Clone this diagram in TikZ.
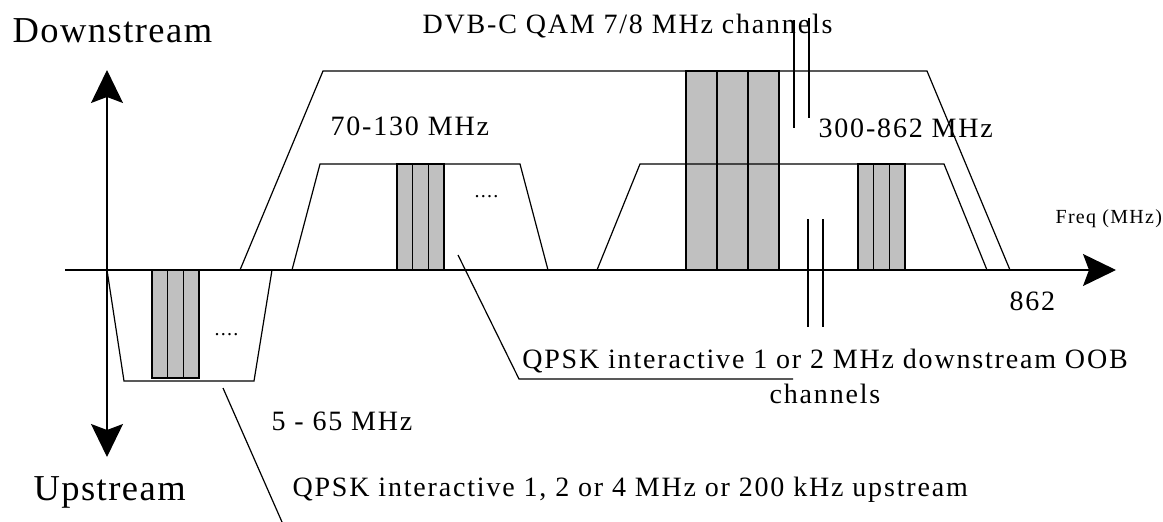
\documentclass[tikz,border=0pt]{standalone}
\usepackage{fontspec}
\setmainfont{Liberation Serif}[LetterSpace=6.5]
\usetikzlibrary{arrows.meta}
\definecolor{chgray}{RGB}{192,192,192}

\begin{document}
\begin{tikzpicture}[
  x=1pt, y=-1pt, line width=1.2pt,
  lbl/.style={inner sep=0pt, anchor=base west, font=\fontsize{28}{35}\selectfont},
  big/.style={inner sep=0pt, anchor=base west, font=\fontsize{36.5}{40}\selectfont},
  tiny/.style={inner sep=0pt, anchor=base west, font=\fontsize{20}{24}\selectfont},
  chan/.style={draw, fill=chgray},
  >={Stealth[length=33pt, width=32pt, inset=6pt]},
]
\useasboundingbox (0,0) rectangle (1163,522);

% channels
\foreach \x in {686,717,748} \draw[chan] (\x,71) rectangle ++(31,199);
\foreach \x in {397,412.7,428.3} \draw[chan] (\x,164) rectangle ++(15.7,106);
\foreach \x in {858,873.7,889.3} \draw[chan] (\x,164) rectangle ++(15.7,106);
\foreach \x in {152,167.7,183.3} \draw[chan] (\x,270) rectangle ++(15.7,108);

% bands
\draw (240,270) -- (323,71) -- (927,71) -- (1010,270);
\draw (292,270) -- (320,164) -- (520,164) -- (548,270);
\draw (597,270) -- (640,164) -- (944,164) -- (987,270);
\draw (107,270) -- (124,381) -- (254,381) -- (272,270);

\node[tiny] (dots1) at (474,197) {....};
\node[tiny] (dots2) at (214,335) {....};

% axes
\coordinate (vup) at (107,70);
\coordinate (vdown) at (107,457);
\coordinate (forigin) at (65,270);
\coordinate (fend) at (1116,270);
\draw[<->] (vdown) -- (vup);
\draw[->] (forigin) -- (fend);

% labels
\node[big, font=\fontsize{36.5}{40}\selectfont\addfontfeature{LetterSpace=4}] (downstream) at (12,42) {Downstream};
\node[big, font=\fontsize{36.5}{40}\selectfont\addfontfeature{LetterSpace=4}] (upstream) at (33,500) {Upstream};
\node[lbl] (dvbc) at (422,33) {DVB-C QAM 7/8 MHz channels};
\node[lbl] (band70) at (330,135) {70-130 MHz};
\node[lbl] (band300) at (818,137) {300-862 MHz};
\node[tiny] (freq) at (1055,223) {Freq (MHz)};
\node[lbl] (f862) at (1009,310) {862};
\node[lbl, anchor=north, align=center] (oob) at (825,348.5)
  {QPSK interactive 1 or 2 MHz downstream OOB\\channels};
\node[lbl] (band5) at (271,430) {5 - 65 MHz};
\node[lbl] (qpskup) at (292,496) {QPSK interactive 1, 2 or 4 MHz or 200 kHz upstream};

% leaders
\coordinate (dvbA1) at (794,20);  \coordinate (dvbA2) at (794,128);
\coordinate (dvbB1) at (809,18);  \coordinate (dvbB2) at (809,118);
\draw (dvbA1) -- (dvbA2);
\draw (dvbB1) -- (dvbB2);
\coordinate (oobA1) at (808,219); \coordinate (oobA2) at (808,327);
\coordinate (oobB1) at (823,219); \coordinate (oobB2) at (823,327);
\draw (oobA1) -- (oobA2);
\draw (oobB1) -- (oobB2);
\coordinate (oobstart) at (458,255);
\coordinate (oobknee) at (519,379);
\coordinate (oobend) at (793,379);
\draw (oobstart) -- (oobknee) -- (oobend);
\coordinate (upstart) at (223,388);
\coordinate (upend) at (282,522);
\draw (upstart) -- (upend);

\end{tikzpicture}
\end{document}
